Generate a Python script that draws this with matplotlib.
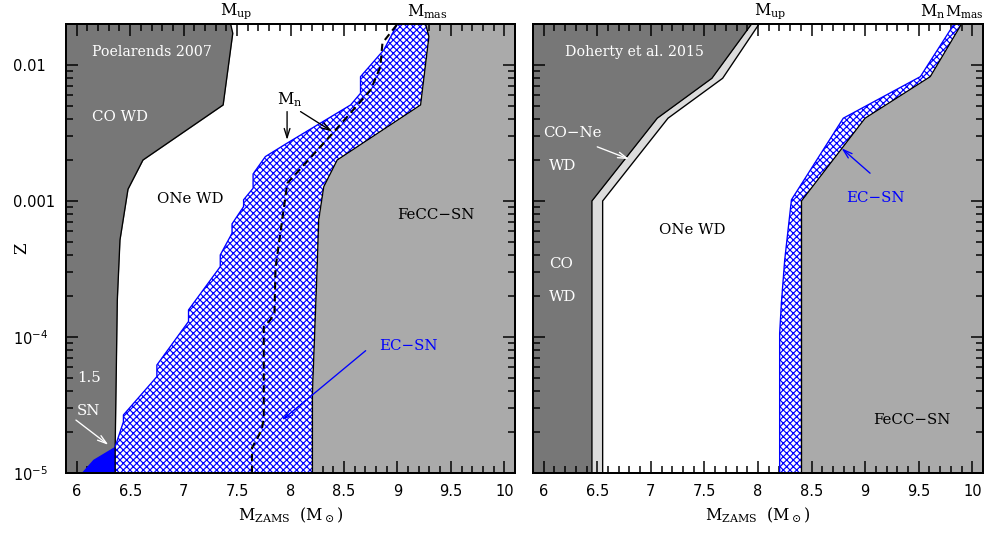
import numpy as np
import matplotlib
matplotlib.use('Agg')
import matplotlib.pyplot as plt
import matplotlib.transforms as mtransforms
from matplotlib.ticker import (MultipleLocator, LogLocator, FixedLocator,
                               FixedFormatter, NullFormatter)

# ---------------- data ----------------
XLIM = (5.9, 10.1)
ZLIM = (1e-5, 0.02)

x_ticks = [6, 6.5, 7, 7.5, 8, 8.5, 9, 9.5, 10]
x_ticklabels = ['6', '6.5', '7', '7.5', '8', '8.5', '9', '9.5', '10']
z_ticks = [1e-5, 1e-4, 1e-3, 1e-2]
z_ticklabels = [r'$10^{-5}$', r'$10^{-4}$', '0.001', '0.01']

# Left panel: Poelarends 2007 (boundaries listed top -> bottom unless noted)
p07_mup_x = [7.44, 7.46, 7.37, 6.62, 6.48, 6.415, 6.405, 6.38, 6.36, 6.36]
p07_mup_z = [0.02, 0.0171, 5.08e-3, 2.0e-3, 1.22e-3, 5.79e-4, 5.17e-4, 1.87e-4, 1.56e-5, 1e-5]

# EC-SN lower-mass edge, listed bottom -> top
p07_ec_x = [6.36, 6.36, 6.437, 6.437, 6.75, 6.75, 7.046, 7.046, 7.343, 7.343, 7.453, 7.453,
            7.561, 7.561, 7.65, 7.65, 7.765, 7.968, 8.562, 8.655, 8.655, 8.873, 9.0]
p07_ec_z = [1e-5, 1.56e-5, 2.38e-5, 2.67e-5, 5.11e-5, 6.22e-5, 1.30e-4, 1.58e-4, 3.29e-4, 4.01e-4,
            5.79e-4, 6.78e-4, 9.08e-4, 1.02e-3, 1.24e-3, 1.58e-3, 2.12e-3, 2.66e-3, 5.08e-3,
            6.19e-3, 8.20e-3, 0.0129, 0.02]

p07_mmas_x = [9.264, 9.295, 9.217, 8.437, 8.311, 8.264, 8.249, 8.205, 8.205]
p07_mmas_z = [0.02, 0.01615, 5.08e-3, 2.0e-3, 1.27e-3, 7.25e-4, 3.2e-4, 3.87e-5, 1e-5]

p07_mn_x = [7.64, 7.64, 7.73, 7.75, 7.75, 7.81, 7.85, 7.86, 7.97, 8.40, 8.75, 8.84, 8.86, 9.00]
p07_mn_z = [1e-5, 1.53e-5, 2.07e-5, 2.5e-5, 1.19e-4, 1.33e-4, 1.5e-4, 3.22e-4, 1.35e-3,
            3.18e-3, 6.55e-3, 9.66e-3, 0.0145, 0.02]

p07_sn15_x = [6.047, 6.156, 6.36, 6.36]
p07_sn15_z = [1e-5, 1.25e-5, 1.56e-5, 1e-5]

# Right panel: Doherty et al. 2015 (top -> bottom)
d15_z = [0.02, 7.98e-3, 4.06e-3, 1.0e-3, 1e-5]
d15_mco_x = [7.94, 7.57, 7.06, 6.45, 6.45]
d15_mup_x = [8.01, 7.67, 7.16, 6.55, 6.55]

d15_ec_x = [9.83, 9.515, 8.796, 8.312, 8.249, 8.218, 8.202, 8.202]
d15_ec_z = [0.02, 8.2e-3, 4.06e-3, 1.02e-3, 3.67e-4, 1.77e-4, 1.06e-4, 1e-5]

d15_mmas_x = [9.90, 9.608, 9.0, 8.406, 8.406]
d15_mmas_z = [0.02, 8.2e-3, 4.06e-3, 1.0e-3, 1e-5]

# ---------------- style ----------------
DPI = 120
W, H = 986, 533
DARK = '#777777'
LIGHT = '#aaaaaa'
PALE = '#dcdcdc'
BLUE = '#0000ff'
SERIF = 'DejaVu Serif'
SANS = 'DejaVu Sans'
HATCH = 'xxxxxx'

plt.rcParams['hatch.linewidth'] = 0.7
plt.rcParams['hatch.color'] = BLUE
plt.rcParams['font.family'] = SANS

fig = plt.figure(figsize=(W / DPI, H / DPI), dpi=DPI)
axL = fig.add_axes([66 / W, 1 - 473 / H, 449 / W, 449 / H])
axR = fig.add_axes([533 / W, 1 - 473 / H, 450 / W, 449 / H])


def style(ax, ylabels):
    ax.set_yscale('log')
    ax.set_xlim(XLIM)
    ax.set_ylim(ZLIM)
    ax.xaxis.set_major_locator(FixedLocator(x_ticks))
    ax.xaxis.set_major_formatter(FixedFormatter(x_ticklabels))
    ax.xaxis.set_minor_locator(MultipleLocator(0.1))
    ax.yaxis.set_major_locator(FixedLocator(z_ticks))
    ax.yaxis.set_minor_locator(LogLocator(base=10, subs=np.arange(2, 10)))
    ax.yaxis.set_minor_formatter(NullFormatter())
    if ylabels:
        ax.yaxis.set_major_formatter(FixedFormatter(z_ticklabels))
    else:
        ax.yaxis.set_major_formatter(NullFormatter())
    ax.tick_params(which='both', direction='in', top=True, right=True,
                   width=0.9, colors='black')
    ax.tick_params(which='major', length=7.2)
    ax.tick_params(which='minor', length=4)
    ax.tick_params(axis='x', which='major', pad=6.5, labelsize=8.8)
    ax.tick_params(axis='y', which='major', pad=31.8, labelsize=8.8)
    if ylabels:
        plt.setp(ax.get_yticklabels(), ha='left')
    for s in ax.spines.values():
        s.set_linewidth(1.2)
        s.set_zorder(10)
    ax.set_xlabel(r'$\mathregular{M_{ZAMS}}$  $\mathregular{(M_\odot)}$',
                  family=SERIF, fontsize=9.5, labelpad=4)


def txt(ax, x, z, s, color='black', size=9):
    ax.text(x, z, s, color=color, fontsize=size, family=SERIF,
            ha='center', va='center', zorder=6)


def arrow(ax, start, end, color):
    ax.annotate('', xy=end, xytext=start,
                arrowprops=dict(arrowstyle='->,head_length=0.55,head_width=0.17',
                                color=color, lw=0.8, shrinkA=0, shrinkB=0),
                zorder=7)


def toplabel(ax, x, s, size=9.5):
    tr = mtransforms.blended_transform_factory(ax.transData, ax.transAxes)
    ax.text(x, 1.006, s, transform=tr, ha='center', va='bottom',
            family=SERIF, fontsize=size, clip_on=False)


# ---------------- left panel ----------------
ax = axL
ax.fill_betweenx(p07_mup_z, XLIM[0], p07_mup_x, color=DARK, lw=0, zorder=1)
ax.fill_betweenx(p07_mmas_z, p07_mmas_x, XLIM[1], color=LIGHT, lw=0, zorder=1)
ax.fill(np.r_[p07_ec_x, p07_mmas_x], np.r_[p07_ec_z, p07_mmas_z],
        facecolor='white', edgecolor=BLUE, hatch=HATCH, lw=0, zorder=2)
ax.fill(p07_sn15_x, p07_sn15_z, color=BLUE, lw=0, zorder=3)
ax.plot(p07_mup_x, p07_mup_z, color='black', lw=0.8, zorder=4)
ax.plot(p07_mmas_x, p07_mmas_z, color='black', lw=0.8, zorder=4)
ax.plot(p07_ec_x[1:], p07_ec_z[1:], color=BLUE, lw=0.8, zorder=4)
ax.plot(p07_mn_x, p07_mn_z, color='black', lw=1.25, ls=(0, (3.5, 2.2)), zorder=5)
style(ax, True)
ax.set_ylabel('Z', family=SERIF, fontsize=10)
ax.yaxis.set_label_coords(-0.080, 0.5)

txt(ax, 6.708, 0.01247, 'Poelarends 2007', 'white', 8.5)
txt(ax, 6.406, 4.15e-3, 'CO WD', 'white')
txt(ax, 7.063, 1.03e-3, 'ONe WD')
txt(ax, 9.36, 7.88e-4, 'FeCC\u2212SN')
txt(ax, 9.10, 8.59e-5, 'EC\u2212SN', BLUE)
txt(ax, 6.116, 5.0e-5, '1.5', 'white')
txt(ax, 6.106, 2.86e-5, 'SN', 'white')
txt(ax, 7.99, 5.6e-3, r'$\mathregular{M_n}$', 'black', 9.5)
arrow(ax, (7.968, 4.54e-3), (7.968, 2.81e-3), 'black')
arrow(ax, (8.094, 4.54e-3), (8.39, 3.24e-3), 'black')
arrow(ax, (8.703, 7.93e-5), (7.921, 2.45e-5), BLUE)
arrow(ax, (5.993, 2.45e-5), (6.296, 1.61e-5), 'white')
toplabel(ax, 7.49, r'$\mathregular{M_{up}}$')
toplabel(ax, 9.28, r'$\mathregular{M_{mas}}$')

# ---------------- right panel ----------------
ax = axR
ax.fill_betweenx(d15_z, XLIM[0], d15_mco_x, color=DARK, lw=0, zorder=1)
ax.fill_betweenx(d15_z, d15_mco_x, d15_mup_x, color=PALE, lw=0, zorder=1)
ax.fill_betweenx(d15_mmas_z, d15_mmas_x, XLIM[1], color=LIGHT, lw=0, zorder=1)
ax.fill(np.r_[d15_ec_x, d15_mmas_x[::-1]], np.r_[d15_ec_z, d15_mmas_z[::-1]],
        facecolor='white', edgecolor=BLUE, hatch=HATCH, lw=0, zorder=2)
ax.plot(d15_mco_x, d15_z, color='black', lw=0.8, zorder=4)
ax.plot(d15_mup_x, d15_z, color='black', lw=0.8, zorder=4)
ax.plot(d15_mmas_x, d15_mmas_z, color='black', lw=0.8, zorder=4)
ax.plot(d15_ec_x, d15_ec_z, color=BLUE, lw=0.8, zorder=4)
style(ax, False)

txt(ax, 6.843, 0.01254, 'Doherty et al. 2015', 'white', 8.5)
txt(ax, 6.272, 3.15e-3, 'CO\u2212Ne', 'white')
txt(ax, 6.178, 1.82e-3, 'WD', 'white')
txt(ax, 6.164, 3.44e-4, 'CO', 'white')
txt(ax, 6.172, 1.98e-4, 'WD', 'white')
txt(ax, 7.387, 6.12e-4, 'ONe WD')
txt(ax, 9.10, 1.05e-3, 'EC\u2212SN', BLUE)
txt(ax, 9.44, 2.45e-5, 'FeCC\u2212SN')
arrow(ax, (6.50, 2.5e-3), (6.797, 2.03e-3), 'white')
arrow(ax, (9.046, 1.6e-3), (8.78, 2.44e-3), BLUE)
toplabel(ax, 8.11, r'$\mathregular{M_{up}}$')
toplabel(ax, 9.63, r'$\mathregular{M_n}$')
toplabel(ax, 9.925, r'$\mathregular{M_{mas}}$', 9)

fig.savefig('out.png', dpi=DPI)
